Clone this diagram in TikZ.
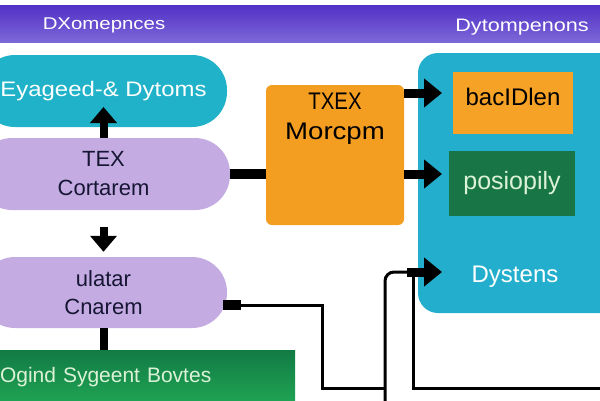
\documentclass[tikz,border=0pt]{standalone}
\usepackage{fontspec}
\setmainfont{Liberation Sans}
\usepackage{graphicx}
\usetikzlibrary{arrows.meta}
\definecolor{cyanbox}{RGB}{32,178,200}
\definecolor{tealbox}{RGB}{34,174,204}
\definecolor{lavbox}{RGB}{196,172,226}
\definecolor{orangebox}{RGB}{243,157,33}
\definecolor{orangeb}{RGB}{245,162,38}
\definecolor{greenb}{RGB}{24,118,70}
\definecolor{greentop}{RGB}{18,122,68}
\definecolor{greenbot}{RGB}{32,165,84}
\definecolor{bantop}{RGB}{82,48,198}
\definecolor{banbot}{RGB}{124,104,216}
\definecolor{navytext}{RGB}{22,22,52}
\definecolor{minttext}{RGB}{220,242,215}
\begin{document}
\begin{tikzpicture}[x=1pt,y=-1pt,
  pill/.style={draw=none, rounded corners=35pt, inner sep=0pt},
  lavpill/.style={pill, fill=lavbox, text=navytext, align=center,
    font=\fontsize{22}{29}\selectfont},
  bantext/.style={text=white, inner sep=0pt, font=\fontsize{17}{20}\selectfont},
  bigarr/.style={line width=9pt, -{Triangle[length=18pt,width=28pt]}},
  vertarr/.style={line width=8pt, -{Triangle[length=16pt,width=26pt]}},
  thinline/.style={line width=3pt, black},
  thickline/.style={line width=10pt, black}
]
\useasboundingbox (0,0) rectangle (600,400);
\fill[white] (0,0) rectangle (600,400);
\clip (0,0) rectangle (600,400);

% banner
\node[draw=none, minimum width=600pt, minimum height=37pt, inner sep=0pt,
  top color=bantop, bottom color=banbot] (ban) at (300,23.5) {};
\node[bantext] (banL) at (104,25) {\scalebox{1.2}[1]{DXomepnces}};
\node[bantext, font=\fontsize{18}{20}\selectfont] (banR) at (522,27) {\scalebox{1.2}[1]{Dytompenons}};

% left column
\node[pill, fill=cyanbox, text=white, minimum width=247pt, minimum height=72pt,
  font=\fontsize{21}{24}\selectfont] (cy) at (103.5,91)
  {\scalebox{1.14}[1]{Eyageed-\& Dytoms}};
\node[lavpill, minimum width=253pt, minimum height=72pt] (p1) at (103.5,174)
  {TEX\\Cortarem};
\node[lavpill, minimum width=247pt, minimum height=71pt, font=\fontsize{22}{28}\selectfont] (p2) at (103.5,292.5)
  {ulatar\\Cnarem};
\node[draw=none, top color=greentop, bottom color=greenbot, text=minttext,
  minimum width=300pt, minimum height=54pt, text width=290pt, align=left,
  inner xsep=5pt, font=\fontsize{21}{24}\selectfont] (gr) at (145,377)
  {Ogind Sygeent Bovtes};

% orange middle box
\node[draw=none, fill=orangebox, rounded corners=6pt, minimum width=138pt,
  minimum height=140pt] (orng) at (335,155) {};
\node[text=black, align=center, inner sep=0pt, font=\fontsize{24}{30}\selectfont]
  (orngtxt) at (335,119) {\scalebox{0.85}[1]{TXEX}\\\scalebox{1.15}[1]{Morcpm}};

% big teal box
\node[draw=none, fill=tealbox, rounded corners=20pt, minimum width=222pt,
  minimum height=260pt] (teal) at (529,183) {};
\node[draw=none, fill=orangeb, minimum width=120pt, minimum height=62pt,
  text depth=12pt, font=\fontsize{24}{28}\selectfont] (bac) at (513,103) {bacIDlen};
\node[draw=none, fill=greenb, text=minttext, minimum width=126pt, minimum height=65pt,
  font=\fontsize{25}{28}\selectfont] (pos) at (512,183.5) {posiopily};
\node[text=white, inner sep=0pt, font=\fontsize{24}{28}\selectfont] (dys) at (515,277) {Dystens};

% coordinates
\coordinate (upTip) at (103.5,107);
\coordinate (t1) at (442,93);
\coordinate (t2) at (442,174);
\coordinate (t3) at (442,272);
\coordinate (a3s) at (407,272);
\coordinate (bend) at (322,388);
\coordinate (jn) at (385,388);
\coordinate (b1) at (385,405);
\coordinate (v3) at (413,274);
\coordinate (r3) at (610,388);

% connectors
\draw[vertarr] (upTip |- p1.north) -- (upTip);
\draw[vertarr, shorten <=17pt, shorten >=5pt] (p1.south) -- (p2.north);
\draw[thickline] (p1.east) -- (p1.east -| orng.west);
\draw[bigarr] (orng.east |- t1) -- (t1);
\draw[bigarr] (orng.east |- t2) -- (t2);
\draw[thickline] ([xshift=-4pt,yshift=-12.5pt]p2.east) -- ++(18,0) coordinate (stubEnd);
\draw[thinline] (stubEnd) -| (bend) -- (jn);
\draw[line width=8pt] (p2.south) -- (p2.south |- gr.north);
\draw[thinline, rounded corners=9pt] (b1) |- (a3s);
\draw[bigarr] (a3s) -- (t3);
\draw[thinline] (v3) |- (r3);
\end{tikzpicture}
\end{document}
